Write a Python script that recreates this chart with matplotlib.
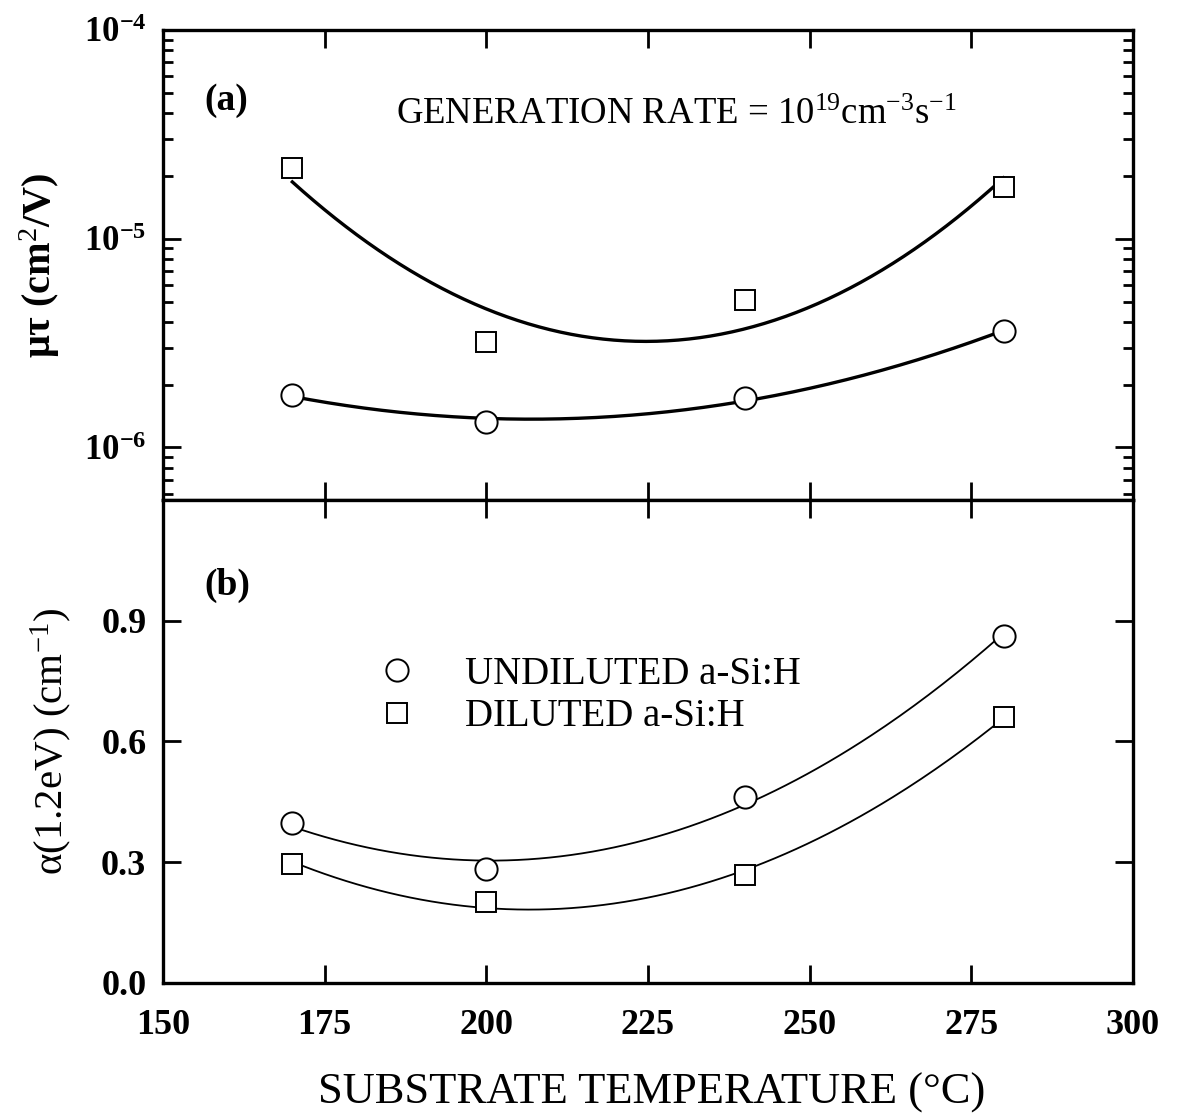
import numpy as np
import matplotlib
matplotlib.use('Agg')
import matplotlib.pyplot as plt
from matplotlib.ticker import LogLocator, NullFormatter

plt.rcParams['font.family'] = ['Liberation Serif', 'DejaVu Serif']
plt.rcParams['mathtext.fontset'] = 'custom'
plt.rcParams['mathtext.rm'] = 'Liberation Serif'
plt.rcParams['mathtext.it'] = 'Liberation Serif:italic'
plt.rcParams['mathtext.bf'] = 'Liberation Serif:bold'

# substrate temperatures (C)
temps = [170, 200, 240, 280]

# (a) mu-tau product, generation rate 1e19 cm^-3 s^-1
mutau_undiluted = [1.78e-6, 1.33e-6, 1.72e-6, 3.60e-6]
mutau_diluted = [2.18e-5, 3.19e-6, 5.07e-6, 1.77e-5]

# (b) sub-gap absorption at 1.2 eV (cm^-1)
alpha_undiluted = [0.397, 0.283, 0.461, 0.863]
alpha_diluted = [0.295, 0.201, 0.268, 0.662]

xticks = [150, 175, 200, 225, 250, 275, 300]
mutau_ticks = [1e-6, 1e-5, 1e-4]
mutau_ticklabels = [r'$\mathbf{10^{-6}}$', r'$\mathbf{10^{-5}}$', r'$\mathbf{10^{-4}}$']
alpha_ticks = [0.0, 0.3, 0.6, 0.9]
alpha_ticklabels = ['0.0', '0.3', '0.6', '0.9']

fig = plt.figure(figsize=(11.77, 11.15), dpi=100)
ax1 = fig.add_axes([0.1385, 0.5516, 0.824, 0.4215])
ax2 = fig.add_axes([0.1385, 0.1184, 0.824, 0.4332], sharex=ax1)

xs = np.linspace(min(temps), max(temps), 200)

# quadratic fits (log scale for mu-tau)
for vals in (mutau_diluted, mutau_undiluted):
    p = np.polyfit(temps, np.log10(vals), 2)
    ax1.plot(xs, 10 ** np.polyval(p, xs), '-k', lw=2.4)
for vals in (alpha_undiluted, alpha_diluted):
    p = np.polyfit(temps, vals, 2)
    ax2.plot(xs, np.polyval(p, xs), '-k', lw=1.3)

ax1.plot(temps, mutau_diluted, 's', ms=14, mfc='white', mec='k', mew=1.4)
ax1.plot(temps, mutau_undiluted, 'o', ms=16, mfc='white', mec='k', mew=1.4)
ax2.plot(temps, alpha_undiluted, 'o', ms=16, mfc='white', mec='k', mew=1.4,
         label='UNDILUTED a-Si:H')
ax2.plot(temps, alpha_diluted, 's', ms=14, mfc='white', mec='k', mew=1.4,
         label='DILUTED a-Si:H')

ax1.set_yscale('log')
ax1.set_ylim(5.6e-7, 1e-4)
ax1.set_yticks(mutau_ticks)
ax1.set_yticklabels(mutau_ticklabels, fontsize=25)
ax1.yaxis.set_minor_locator(LogLocator(base=10, subs=np.arange(2, 10)))
ax1.yaxis.set_minor_formatter(NullFormatter())
ax1.tick_params(labelbottom=False)

ax2.set_xlim(150, 300)
ax2.set_xticks(xticks)
ax2.set_xticklabels([str(t) for t in xticks], fontsize=26, fontweight='bold')
ax2.set_ylim(0, 1.2)
ax2.set_yticks(alpha_ticks)
ax2.set_yticklabels(alpha_ticklabels, fontsize=26, fontweight='bold')

for ax in (ax1, ax2):
    ax.tick_params(which='both', direction='in', top=True, right=True, width=2)
    ax.tick_params(which='major', length=13)
    ax.tick_params(which='minor', length=7)
    ax.tick_params(axis='x', pad=19)
    ax.tick_params(axis='y', pad=12)
    for s in ax.spines.values():
        s.set_linewidth(2.4)

ax1.set_ylabel('μτ (cm$^{2}$/V)', fontsize=29, fontweight='bold')
ax1.yaxis.set_label_coords(-0.104, 0.5)
ax2.set_ylabel('α(1.2eV) (cm$^{-1}$)', fontsize=29.5)
ax2.yaxis.set_label_coords(-0.092, 0.5)
ax2.set_xlabel('SUBSTRATE TEMPERATURE (°C)', fontsize=32)
ax2.xaxis.set_label_coords(0.504, -0.185)

ax1.text(0.043, 0.85, '(a)', transform=ax1.transAxes, fontsize=27,
         fontweight='bold', va='center')
ax1.text(0.24, 0.82, 'GENERATION RATE = 10$^{19}$cm$^{-3}$s$^{-1}$',
         transform=ax1.transAxes, fontsize=26.5, va='center')
ax2.text(0.043, 0.824, '(b)', transform=ax2.transAxes, fontsize=27,
         fontweight='bold', va='center')

ax2.legend(loc='upper left', bbox_to_anchor=(0.205, 0.71), frameon=False,
           fontsize=28, numpoints=1, handlelength=1.0, handletextpad=1.25,
           labelspacing=0.15, borderaxespad=0)

fig.savefig('out.png', dpi=100)
